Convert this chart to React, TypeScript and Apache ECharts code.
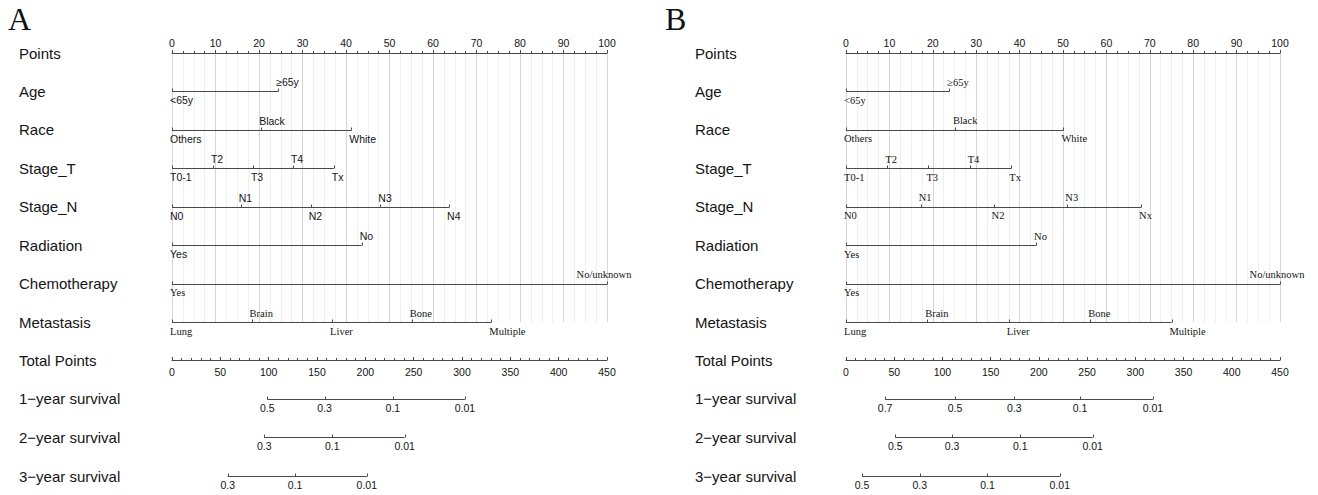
import React, { useEffect, useRef } from "react";
import * as echarts from "echarts";

// ---------- row names ----------
const topRows = ["Points", "Age", "Race", "Stage_T", "Stage_N", "Radiation", "Chemotherapy", "Metastasis"];
const bottomRows = ["Total Points", "1\u2212year survival", "2\u2212year survival", "3\u2212year survival"];

// ---------- variable levels ----------
const ageLevels = ["<65y", "\u226565y"];
const raceLevels = ["Others", "Black", "White"];
const stageTLevels = ["T0-1", "T2", "T3", "T4", "Tx"];
const stageNLevelsA = ["N0", "N1", "N2", "N3", "N4"];
const stageNLevelsB = ["N0", "N1", "N2", "N3", "Nx"];
const radiationLevels = ["Yes", "No"];
const chemoLevels = ["Yes", "No/unknown"];
const metastasisLevels = ["Lung", "Brain", "Liver", "Bone", "Multiple"];

// ---------- panel A points ----------
const agePointsA = [0, 24.4];
const racePointsA = [0, 20.5, 41.2];
const stageTPointsA = [0, 9.4, 18.6, 27.8, 37.2];
const stageNPointsA = [0, 15.8, 31.9, 47.9, 63.7];
const radiationPointsA = [0, 43.6];
const chemoPointsA = [0, 100];
const metastasisPointsA = [0, 18.3, 36.8, 55.1, 73.4];

// ---------- panel B points ----------
const agePointsB = [0, 23.8];
const racePointsB = [0, 25.1, 50.1];
const stageTPointsB = [0, 9.5, 19.0, 28.5, 38.1];
const stageNPointsB = [0, 17.2, 34.0, 51.0, 68.0];
const radiationPointsB = [0, 43.8];
const chemoPointsB = [0, 100];
const metastasisPointsB = [0, 18.7, 37.5, 56.3, 75.0];

// ---------- survival scales (labels and total points) ----------
const surv1LabelsA = ["0.5", "0.3", "0.1", "0.01"];
const surv1TotalA = [98.6, 157.9, 228.5, 303];
const surv2LabelsA = ["0.3", "0.1", "0.01"];
const surv2TotalA = [95.5, 165.7, 240.7];
const surv3LabelsA = ["0.3", "0.1", "0.01"];
const surv3TotalA = [57.6, 127.3, 201.5];

const surv1LabelsB = ["0.7", "0.5", "0.3", "0.1", "0.01"];
const surv1TotalB = [40.6, 113, 174.6, 242.7, 318.2];
const surv2LabelsB = ["0.5", "0.3", "0.1", "0.01"];
const surv2TotalB = [51.1, 110, 180.7, 255.8];
const surv3LabelsB = ["0.5", "0.3", "0.1", "0.01"];
const surv3TotalB = [16.6, 76.4, 146.7, 221.7];

const SANS = "Liberation Sans, Arial, sans-serif";
const SERIF = "Liberation Serif, Times New Roman, serif";
const LINE = "#4a4a4a";
const TXT = "#141414";

const panels = [
  {
    letter: "A",
    letterX: 8,
    left: 172,
    width: 435,
    labelX: 19,
    vars: [
      { levels: ageLevels, points: agePointsA, font: SANS },
      { levels: raceLevels, points: racePointsA, font: SANS },
      { levels: stageTLevels, points: stageTPointsA, font: SANS },
      { levels: stageNLevelsA, points: stageNPointsA, font: SANS },
      { levels: radiationLevels, points: radiationPointsA, font: SANS },
      { levels: chemoLevels, points: chemoPointsA, font: SERIF },
      { levels: metastasisLevels, points: metastasisPointsA, font: SERIF },
    ],
    survs: [
      { labels: surv1LabelsA, totals: surv1TotalA },
      { labels: surv2LabelsA, totals: surv2TotalA },
      { labels: surv3LabelsA, totals: surv3TotalA },
    ],
  },
  {
    letter: "B",
    letterX: 665,
    left: 846,
    width: 434,
    labelX: 695,
    vars: [
      { levels: ageLevels, points: agePointsB, font: SERIF },
      { levels: raceLevels, points: racePointsB, font: SERIF },
      { levels: stageTLevels, points: stageTPointsB, font: SERIF },
      { levels: stageNLevelsB, points: stageNPointsB, font: SERIF },
      { levels: radiationLevels, points: radiationPointsB, font: SERIF },
      { levels: chemoLevels, points: chemoPointsB, font: SERIF },
      { levels: metastasisLevels, points: metastasisPointsB, font: SERIF },
    ],
    survs: [
      { labels: surv1LabelsB, totals: surv1TotalB },
      { labels: surv2LabelsB, totals: surv2TotalB },
      { labels: surv3LabelsB, totals: surv3TotalB },
    ],
  },
];

function segSeries(segs: number[][], xi: number) {
  return {
    type: "custom",
    xAxisIndex: xi,
    yAxisIndex: xi,
    clip: false,
    silent: true,
    data: segs,
    renderItem: (_p: any, api: any) => {
      const a = api.coord([api.value(0), api.value(1)]);
      const b = api.coord([api.value(2), api.value(1)]);
      const y = Math.round(a[1]) + 0.5;
      return {
        type: "line",
        shape: { x1: a[0], y1: y, x2: b[0], y2: y },
        style: { stroke: LINE, lineWidth: 1 },
      };
    },
  };
}

function tickSeries(items: any[], xi: number) {
  return {
    type: "custom",
    xAxisIndex: xi,
    yAxisIndex: xi,
    clip: false,
    silent: true,
    data: items.map((d) => d.value),
    renderItem: (params: any, api: any) => {
      const it = items[params.dataIndex];
      const c = api.coord([api.value(0), api.value(1)]);
      const y = Math.round(c[1]) + 0.5;
      const x = Math.round(c[0]) + 0.5;
      return {
        type: "group",
        children: [
          {
            type: "line",
            shape: { x1: x, y1: y, x2: x, y2: y - 3 },
            style: { stroke: LINE, lineWidth: 1 },
          },
          {
            type: "text",
            x: c[0] + it.dx,
            y: c[1] + (it.above ? -9 : 9),
            style: {
              text: it.lab,
              fill: TXT,
              fontSize: 10.5,
              fontFamily: it.font,
              align: it.align,
              verticalAlign: "middle",
            },
          },
        ],
      };
    },
  };
}

function buildOption() {
  const grid: any[] = [];
  const xAxis: any[] = [];
  const yAxis: any[] = [];
  const series: any[] = [];
  const graphic: any[] = [];

  panels.forEach((p, pi) => {
    const gTop = pi * 2;
    const gBot = pi * 2 + 1;
    grid.push({ left: p.left, width: p.width, top: 53, height: 269 });
    grid.push({ left: p.left, width: p.width, top: 360, height: 116 });

    xAxis.push({
      gridIndex: gTop,
      type: "value",
      position: "top",
      min: 0,
      max: 100,
      interval: 10,
      axisLine: { show: true, lineStyle: { color: LINE, width: 1 } },
      axisTick: { show: true, length: 3, lineStyle: { color: LINE } },
      minorTick: { show: true, splitNumber: 4, length: 2, lineStyle: { color: LINE } },
      axisLabel: { margin: 5, fontSize: 10.5, fontFamily: SANS, color: TXT },
      splitLine: { show: true, lineStyle: { color: "#d6d6d6", width: 1 } },
      minorSplitLine: { show: true, lineStyle: { color: "#efefef", width: 1 } },
    });
    xAxis.push({
      gridIndex: gBot,
      type: "value",
      position: "top",
      min: 0,
      max: 450,
      interval: 50,
      axisLine: { show: true, lineStyle: { color: LINE, width: 1 } },
      axisTick: { show: true, length: 3, lineStyle: { color: LINE } },
      minorTick: { show: true, splitNumber: 5, length: 2, lineStyle: { color: LINE } },
      axisLabel: { inside: true, margin: 6, fontSize: 10.5, fontFamily: SANS, color: TXT },
      splitLine: { show: false },
    });

    const yCommon = {
      type: "category",
      inverse: true,
      boundaryGap: false,
      axisLine: { show: false },
      axisTick: { show: false },
      splitLine: { show: false },
    };
    yAxis.push({
      ...yCommon,
      gridIndex: gTop,
      data: topRows,
      axisLabel: { align: "left", margin: p.left - p.labelX, fontSize: 15, fontFamily: SANS, color: TXT },
    });
    yAxis.push({
      ...yCommon,
      gridIndex: gBot,
      data: bottomRows,
      axisLabel: { align: "left", margin: p.left - p.labelX, fontSize: 15, fontFamily: SANS, color: TXT },
    });

    // variable rows
    const segs: number[][] = [];
    const items: any[] = [];
    p.vars.forEach((v, r) => {
      const row = r + 1;
      segs.push([v.points[0], row, v.points[v.points.length - 1]]);
      v.levels.forEach((lab, i) => {
        const centered = lab === "No/unknown";
        items.push({
          value: [v.points[i], row],
          lab,
          above: i % 2 === 1,
          font: v.font,
          align: centered ? "center" : "left",
          dx: centered ? -3 : -2,
        });
      });
    });
    series.push(segSeries(segs, gTop));
    series.push(tickSeries(items, gTop));

    // survival rows
    const sSegs: number[][] = [];
    const sItems: any[] = [];
    p.survs.forEach((s, r) => {
      const row = r + 1;
      sSegs.push([s.totals[0], row, s.totals[s.totals.length - 1]]);
      s.labels.forEach((lab, i) => {
        sItems.push({ value: [s.totals[i], row], lab, above: false, font: SANS, align: "center", dx: 0 });
      });
    });
    series.push(segSeries(sSegs, gBot));
    series.push(tickSeries(sItems, gBot));

    graphic.push({
      type: "text",
      left: p.letterX,
      top: 3,
      style: { text: p.letter, fontSize: 32, fontFamily: SERIF, fill: "#111" },
    });
  });

  return {
    animation: false,
    backgroundColor: "#ffffff",
    grid,
    xAxis,
    yAxis,
    series,
    graphic,
  };
}

export default function App() {
  const ref = useRef<HTMLDivElement>(null);
  useEffect(() => {
    document.body.style.margin = "0";
    if (!ref.current) return;
    const chart = echarts.init(ref.current, undefined, { renderer: "svg" });
    chart.setOption(buildOption() as any);
    return () => chart.dispose();
  }, []);
  return <div ref={ref} style={{ position: "fixed", left: 0, top: 0, width: 1318, height: 495, background: "#fff" }} />;
}
